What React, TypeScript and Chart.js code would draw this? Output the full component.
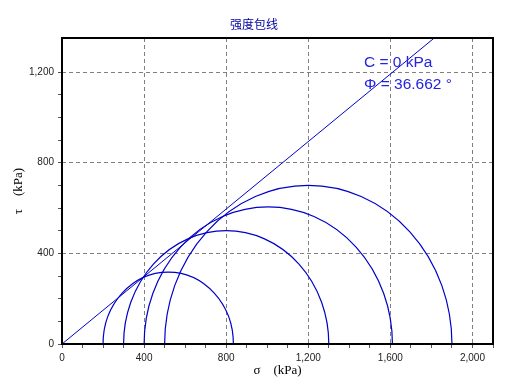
import React, { useEffect, useRef } from "react";
import { Chart, registerables } from "chart.js";

Chart.register(...registerables);

// Mohr circles: minor (σ3) and major (σ1) principal stresses, kPa
const sigma3 = [200, 300, 400, 500];
const sigma1 = [835, 1300, 1610, 1900];
// Strength envelope parameters
const cohesion = 0; // kPa
const phiDeg = 36.662; // degrees
const envelopeSigma = [0, 1900];

const xMin = 0;
const xMax = 2100;
const yMin = 0;
const yMax = 1350;

const titleText = "强度包线";
const xTitle = "σ    (kPa)";
const yTitle = "τ    (kPa)";
const noteLines = [`C = ${cohesion} kPa`, `Φ = ${phiDeg} °`];

const LINE_COLOR = "#0000C8";
const TEXT_BLUE = "#2424E0";

export default function App() {
  const ref = useRef<HTMLCanvasElement | null>(null);

  useEffect(() => {
    const canvas = ref.current;
    if (!canvas) return;
    const tanPhi = Math.tan((phiDeg * Math.PI) / 180);
    const envelope = envelopeSigma.map((s) => ({ x: s, y: cohesion + s * tanPhi }));

    const circlesPlugin = {
      id: "mohrCircles",
      afterDatasetsDraw(chart: any) {
        const { ctx, chartArea, scales } = chart;
        const xs = scales.x;
        const ys = scales.y;
        ctx.save();
        ctx.beginPath();
        ctx.rect(chartArea.left, chartArea.top, chartArea.right - chartArea.left, chartArea.bottom - chartArea.top);
        ctx.clip();
        ctx.strokeStyle = LINE_COLOR;
        ctx.lineWidth = 1.2;
        for (let i = 0; i < sigma3.length; i++) {
          const c = (sigma3[i] + sigma1[i]) / 2;
          const r = (sigma1[i] - sigma3[i]) / 2;
          const cx = xs.getPixelForValue(c);
          const cy = ys.getPixelForValue(0);
          const rx = xs.getPixelForValue(c + r) - cx;
          const ry = cy - ys.getPixelForValue(r);
          ctx.beginPath();
          ctx.ellipse(cx, cy, rx, ry, 0, Math.PI, 2 * Math.PI);
          ctx.stroke();
        }
        ctx.restore();
      },
      afterDraw(chart: any) {
        const { ctx, chartArea, width } = chart;
        ctx.save();
        ctx.strokeStyle = "#000";
        ctx.lineWidth = 2;
        ctx.strokeRect(chartArea.left, chartArea.top, chartArea.right - chartArea.left, chartArea.bottom - chartArea.top);
        // title, centred on the whole canvas
        ctx.fillStyle = "#0000A0";
        ctx.font = '12px "Noto Sans CJK SC", sans-serif';
        ctx.textAlign = "center";
        ctx.textBaseline = "middle";
        ctx.fillText(titleText, width / 2, 24);
        // envelope parameters
        ctx.fillStyle = TEXT_BLUE;
        ctx.font = '15.5px "Liberation Sans", Arial, sans-serif';
        ctx.textAlign = "left";
        ctx.textBaseline = "alphabetic";
        ctx.fillText(noteLines[0], chartArea.left + 302, chartArea.top + 29);
        ctx.fillText(noteLines[1], chartArea.left + 302, chartArea.top + 51);
        ctx.restore();
      },
    };

    const tickFont = { family: '"Liberation Sans", Arial, sans-serif', size: 10 };
    const titleFont = { family: '"Liberation Serif", "DejaVu Serif", serif', size: 13 };

    const chart = new Chart(canvas, {
      type: "scatter",
      data: {
        datasets: [
          {
            data: envelope,
            showLine: true,
            borderColor: LINE_COLOR,
            borderWidth: 1,
            pointRadius: 0,
            fill: false,
          },
        ],
      },
      options: {
        animation: false,
        responsive: false,
        maintainAspectRatio: false,
        layout: { padding: { left: 0, right: 15, top: 38, bottom: 0 } },
        plugins: {
          legend: { display: false },
          tooltip: { enabled: false },
          title: { display: false },
        },
        scales: {
          x: {
            type: "linear",
            min: xMin,
            max: xMax,
            afterFit(scale: any) {
              scale.height = 47;
            },
            afterBuildTicks(scale: any) {
              scale.ticks = scale.ticks.filter((t: any) => t.value % 100 === 0);
            },
            ticks: {
              stepSize: 100,
              autoSkip: false,
              maxRotation: 0,
              padding: 4,
              color: "#222",
              font: tickFont,
              callback: (v: any) => (Number(v) % 400 === 0 ? Number(v).toLocaleString("en-US") : ""),
            },
            grid: {
              color: (ctx: any) => (ctx.tick && ctx.tick.value % 400 === 0 && ctx.tick.value !== 0 ? "#808080" : "rgba(0,0,0,0)"),
              tickColor: "#555",
              tickLength: 4,
              lineWidth: 1,
            },
            border: { display: false, dash: [4, 3] },
            title: {
              display: true,
              text: xTitle,
              color: "#000",
              font: titleFont,
              padding: { top: 0, bottom: 13 },
            },
          },
          y: {
            type: "linear",
            min: yMin,
            max: yMax,
            afterFit(scale: any) {
              scale.width = 62;
            },
            afterBuildTicks(scale: any) {
              scale.ticks = scale.ticks.filter((t: any) => t.value % 100 === 0);
            },
            ticks: {
              stepSize: 100,
              autoSkip: false,
              padding: 4,
              color: "#222",
              font: tickFont,
              callback: (v: any) => (Number(v) % 400 === 0 ? Number(v).toLocaleString("en-US") : ""),
            },
            grid: {
              color: (ctx: any) => (ctx.tick && ctx.tick.value % 400 === 0 && ctx.tick.value !== 0 ? "#808080" : "rgba(0,0,0,0)"),
              tickColor: "#555",
              tickLength: 4,
              lineWidth: 1,
            },
            border: { display: false, dash: [4, 3] },
            title: {
              display: true,
              text: yTitle,
              color: "#000",
              font: titleFont,
              padding: { top: 11, bottom: 0 },
            },
          },
        },
      },
      plugins: [circlesPlugin],
    } as any);
    return () => chart.destroy();
  }, []);

  return (
    <div style={{ position: "fixed", left: 0, top: 0, width: 508, height: 391, background: "#fff" }}>
      <canvas ref={ref} width={508} height={391} style={{ display: "block", width: 508, height: 391 }} />
    </div>
  );
}
